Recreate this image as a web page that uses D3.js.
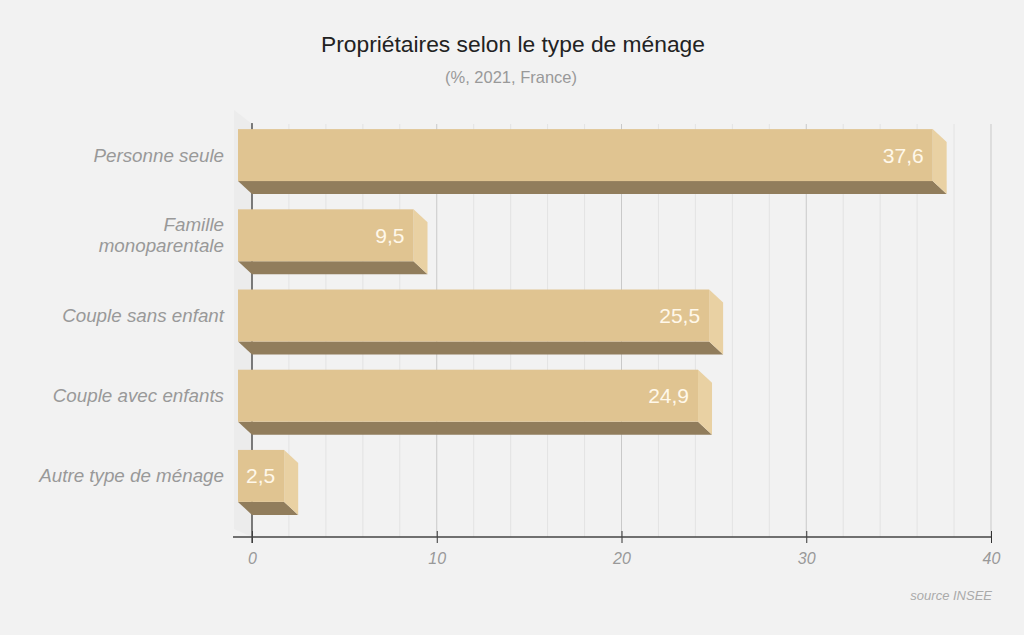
<!DOCTYPE html>
<html>
<head>
<meta charset="utf-8">
<script src="https://cdn.jsdelivr.net/npm/d3@7"></script>
<style>
  html, body { margin: 0; padding: 0; background: #f2f2f2; }
  svg { display: block; font-family: "Liberation Sans", Arial, sans-serif; }
</style>
</head>
<body>
<svg id="chart" width="1024" height="635"></svg>
<script>
const categories = ["Personne seule", "Famille monoparentale", "Couple sans enfant", "Couple avec enfants", "Autre type de ménage"];
const categoryLines = [["Personne seule"], ["Famille", "monoparentale"], ["Couple sans enfant"], ["Couple avec enfants"], ["Autre type de ménage"]];
const values = [37.6, 9.5, 25.5, 24.9, 2.5];
const valueLabels = ["37,6", "9,5", "25,5", "24,9", "2,5"];
const tickValues = [0, 10, 20, 30, 40];
const gridValues = d3.range(0, 41, 2);
const title = "Propriétaires selon le type de ménage";
const subtitle = "(%, 2021, France)";
const source = "source INSEE";

const svg = d3.select("#chart");
svg.append("rect").attr("width", 1024).attr("height", 635).attr("fill", "#f2f2f2");

const x = d3.scaleLinear().domain([0, 40]).range([252, 991]);
const y = d3.scaleBand().domain(categories).range([128, 529]).paddingInner(0.352).paddingOuter(0.176);
const bw = y.bandwidth();
const dx = -14, dy = -13;
const gridTop = 124, axisY = 537;

// left wall
svg.append("polygon")
  .attr("points", [[234, gridTop - 14], [252, gridTop], [252, axisY], [234, axisY - 8]].map(p => p.join(",")).join(" "))
  .attr("fill", "#ececec");

// grid lines
svg.append("g").selectAll("line").data(gridValues).join("line")
  .attr("x1", d => x(d)).attr("x2", d => x(d))
  .attr("y1", gridTop).attr("y2", axisY)
  .attr("stroke", d => d % 10 === 0 ? "#c9c9c9" : "#e3e3e3")
  .attr("stroke-width", 1);

// x axis
const xAxis = d3.axisBottom(x).tickValues(tickValues).tickSize(6).tickPadding(10).tickFormat(d3.format("d"));
const gx = svg.append("g").attr("transform", `translate(0,${axisY})`).call(xAxis);
gx.select(".domain").remove();
gx.selectAll(".tick line").attr("y1", -6).attr("y2", 6).attr("stroke", "#333");
gx.selectAll(".tick text")
  .attr("font-size", 16).attr("font-style", "italic").attr("fill", "#999")
  .attr("font-family", "'Liberation Sans', Arial, sans-serif");
svg.append("line").attr("x1", 233).attr("x2", 991).attr("y1", axisY).attr("y2", axisY)
  .attr("stroke", "#444").attr("stroke-width", 1.3);

// y axis line
svg.append("line").attr("x1", x(0)).attr("x2", x(0)).attr("y1", gridTop - 1).attr("y2", axisY + 6)
  .attr("stroke", "#444").attr("stroke-width", 1.3);

// bars
const bars = svg.append("g").selectAll("g").data(categories).join("g");
bars.each(function(c, i) {
  const g = d3.select(this);
  const x0b = x(0), x1b = x(values[i]);
  const ytb = y(c), ybb = y(c) + bw;
  const x0f = x0b + dx, x1f = x1b + dx, ytf = ytb + dy, ybf = ybb + dy;
  // bottom face
  g.append("polygon")
    .attr("points", [[x0f, ybf], [x1f, ybf], [x1b, ybb], [x0b, ybb]].map(p => p.join(",")).join(" "))
    .attr("fill", "#917d5c");
  // right side face
  g.append("polygon")
    .attr("points", [[x1f, ytf], [x1b, ytb], [x1b, ybb], [x1f, ybf]].map(p => p.join(",")).join(" "))
    .attr("fill", "#e9d1a3");
  // front face
  g.append("rect")
    .attr("x", x0f).attr("y", ytf).attr("width", x1f - x0f).attr("height", bw)
    .attr("fill", "#e0c491");
  // value label
  g.append("text")
    .attr("x", x1f - 9).attr("y", ytf + bw / 2)
    .attr("text-anchor", "end").attr("dominant-baseline", "central")
    .attr("font-size", 21).attr("fill", "#fff8ea")
    .text(valueLabels[i]);
});

// category labels
const catG = svg.append("g");
categories.forEach((c, i) => {
  const lines = categoryLines[i];
  const cy = y(c) + dy + bw / 2;
  const lh = 21;
  const t = catG.append("text")
    .attr("text-anchor", "end").attr("font-size", 18.8).attr("font-style", "italic").attr("fill", "#999");
  lines.forEach((ln, k) => {
    t.append("tspan").attr("x", 224)
      .attr("y", cy + (k - (lines.length - 1) / 2) * lh)
      .attr("dominant-baseline", "central")
      .text(ln);
  });
});

// titles
svg.append("text").attr("x", 513).attr("y", 52).attr("text-anchor", "middle")
  .attr("font-size", 22.8).attr("fill", "#222").text(title);
svg.append("text").attr("x", 511).attr("y", 83).attr("text-anchor", "middle")
  .attr("font-size", 16.5).attr("fill", "#999").text(subtitle);
svg.append("text").attr("x", 992).attr("y", 600).attr("text-anchor", "end")
  .attr("font-size", 13).attr("font-style", "italic").attr("fill", "#aaa").text(source);
</script>
</body>
</html>
